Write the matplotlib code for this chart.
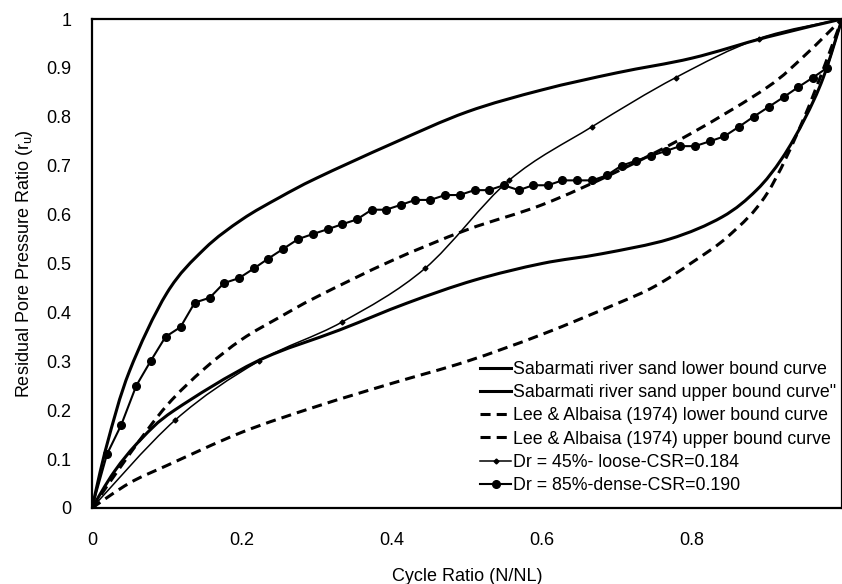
import matplotlib
matplotlib.use('Agg')
import matplotlib.pyplot as plt
from matplotlib.path import Path
from matplotlib.patches import PathPatch
from matplotlib.lines import Line2D
import numpy as np

plt.rcParams['font.family'] = ['Liberation Sans', 'DejaVu Sans']
plt.rcParams['mathtext.fontset'] = 'custom'
plt.rcParams['mathtext.rm'] = 'Liberation Sans'
plt.rcParams['mathtext.it'] = 'Liberation Sans'

# values
sab_low_x = [0, 0.03, 0.065, 0.11, 0.22, 0.33, 0.42, 0.51, 0.6, 0.68, 0.77, 0.84, 0.886, 0.92, 0.95, 0.975, 1.0]
sab_low_y = [0, 0.075, 0.14, 0.20, 0.30, 0.364, 0.419, 0.466, 0.50, 0.52, 0.55, 0.595, 0.65, 0.715, 0.795, 0.88, 1.0]

sab_up_x = [0, 0.02, 0.05, 0.1, 0.15, 0.2, 0.25, 0.3, 0.4, 0.5, 0.6, 0.7, 0.8, 0.9, 1.0]
sab_up_y = [0, 0.13, 0.28, 0.44, 0.53, 0.59, 0.635, 0.675, 0.745, 0.81, 0.855, 0.89, 0.92, 0.963, 1.0]

lee_low_x = [0, 0.05, 0.1, 0.2, 0.3, 0.4, 0.5, 0.6, 0.7, 0.75, 0.8, 0.85, 0.9, 0.95, 1.0]
lee_low_y = [0, 0.051, 0.087, 0.155, 0.208, 0.255, 0.30, 0.355, 0.418, 0.453, 0.502, 0.558, 0.643, 0.80, 1.0]

lee_up_x = [0, 0.05, 0.1, 0.15, 0.2, 0.25, 0.3, 0.4, 0.5, 0.6, 0.7, 0.8, 0.9, 0.95, 1.0]
lee_up_y = [0, 0.11, 0.21, 0.285, 0.345, 0.39, 0.432, 0.506, 0.569, 0.62, 0.688, 0.767, 0.86, 0.925, 1.0]

dr45_x = [0, 0.111, 0.222, 0.333, 0.444, 0.556, 0.667, 0.778, 0.889, 1.0]
dr45_y = [0, 0.18, 0.30, 0.38, 0.49, 0.67, 0.78, 0.88, 0.96, 1.0]

dr85_x = [0, 0.020, 0.039, 0.059, 0.078, 0.098, 0.118, 0.137, 0.157, 0.176,
          0.196, 0.216, 0.235, 0.255, 0.275, 0.294, 0.314, 0.333, 0.353, 0.373,
          0.392, 0.412, 0.431, 0.451, 0.471, 0.490, 0.510, 0.529, 0.549, 0.569,
          0.588, 0.608, 0.627, 0.647, 0.667, 0.686, 0.706, 0.725, 0.745, 0.765,
          0.784, 0.804, 0.824, 0.843, 0.863, 0.882, 0.902, 0.922, 0.941, 0.961,
          0.980, 1.0]
dr85_y = [0, 0.11, 0.17, 0.25, 0.30, 0.35, 0.37, 0.42, 0.43, 0.46,
          0.47, 0.49, 0.51, 0.53, 0.55, 0.56, 0.57, 0.58, 0.59, 0.61,
          0.61, 0.62, 0.63, 0.63, 0.64, 0.64, 0.65, 0.65, 0.66, 0.65,
          0.66, 0.66, 0.67, 0.67, 0.67, 0.68, 0.70, 0.71, 0.72, 0.73,
          0.74, 0.74, 0.75, 0.76, 0.78, 0.80, 0.82, 0.84, 0.86, 0.88,
          0.90, 1.0]

labels = ['Sabarmati river sand lower bound curve',
          'Sabarmati river sand upper bound curve"',
          'Lee & Albaisa (1974) lower bound curve',
          'Lee & Albaisa (1974) upper bound curve',
          'Dr = 45%- loose-CSR=0.184',
          'Dr = 85%-dense-CSR=0.190']

ytick_vals = [0, 0.1, 0.2, 0.3, 0.4, 0.5, 0.6, 0.7, 0.8, 0.9, 1.0]
ytick_labels = ['0', '0.1', '0.2', '0.3', '0.4', '0.5', '0.6', '0.7', '0.8', '0.9', '1']
xtick_vals = [0, 0.2, 0.4, 0.6, 0.8]
xtick_labels = ['0', '0.2', '0.4', '0.6', '0.8']


def smooth_path(x, y):
    # excel-like smoothed line: bezier segments through the points
    p = np.column_stack([x, y]).astype(float)
    n = len(p)
    verts = [p[0]]
    codes = [Path.MOVETO]
    for i in range(n - 1):
        p0 = p[i - 1] if i > 0 else p[i]
        p3 = p[i + 2] if i + 2 < n else p[i + 1]
        verts += [p[i] + (p[i + 1] - p0) / 6, p[i + 1] - (p3 - p[i]) / 6, p[i + 1]]
        codes += [Path.CURVE4] * 3
    return Path(verts, codes)


W, H = 842, 584
fig = plt.figure(figsize=(W / 100, H / 100), dpi=100)
ax = fig.add_axes([92 / W, 1 - 508 / H, 750 / W, 489 / H])

thick = 2.2
dash = (0, (3.3, 2.0))

ax.add_patch(PathPatch(smooth_path(sab_low_x, sab_low_y), fill=False, ec='k', lw=thick))
ax.add_patch(PathPatch(smooth_path(sab_up_x, sab_up_y), fill=False, ec='k', lw=thick))
ax.add_patch(PathPatch(smooth_path(lee_low_x, lee_low_y), fill=False, ec='k', lw=thick, ls=dash))
ax.add_patch(PathPatch(smooth_path(lee_up_x, lee_up_y), fill=False, ec='k', lw=thick, ls=dash))
ax.add_patch(PathPatch(smooth_path(dr45_x, dr45_y), fill=False, ec='k', lw=1.1))
ax.plot(dr45_x, dr45_y, ls='none', marker='D', ms=2.5, color='k')
ax.plot(dr85_x, dr85_y, color='k', lw=1.5, marker='o', ms=5.5)

handles = [Line2D([], [], color='k', lw=thick),
           Line2D([], [], color='k', lw=thick),
           Line2D([], [], color='k', lw=thick, ls=dash),
           Line2D([], [], color='k', lw=thick, ls=dash),
           Line2D([], [], color='k', lw=1.1, marker='D', ms=2.5),
           Line2D([], [], color='k', lw=1.5, marker='o', ms=5.5)]
fig.legend(handles, labels, loc='upper left', bbox_to_anchor=(480 / W, 1 - 361 / H),
           frameon=False, fontsize=12.8, handlelength=1.75, handletextpad=0.1,
           labelspacing=0.35, borderpad=0, borderaxespad=0)

ax.set_xlim(0, 1)
ax.set_ylim(0, 1)
ax.set_xticks(xtick_vals)
ax.set_xticklabels(xtick_labels)
ax.set_yticks(ytick_vals)
ax.set_yticklabels(ytick_labels)
ax.tick_params(length=0, labelsize=13)
ax.tick_params(axis='y', pad=15)
ax.tick_params(axis='x', pad=17)
for s in ax.spines.values():
    s.set_linewidth(1.6)
    s.set_color('k')

ax.set_xlabel('Cycle Ratio (N/NL)', fontsize=13, labelpad=14)
ax.set_ylabel('Residual Pore Pressure Ratio (r$_u$)', fontsize=13, labelpad=8)

fig.savefig('out.png', dpi=100)
